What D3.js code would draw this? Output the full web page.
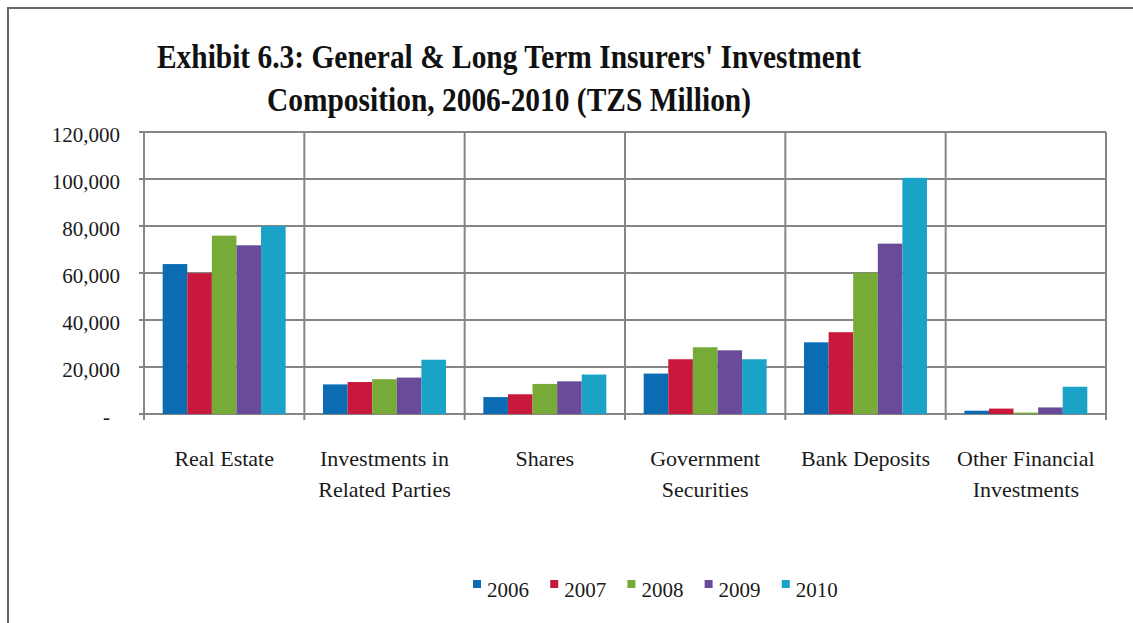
<!DOCTYPE html>
<html>
<head>
<meta charset="utf-8">
<script src="https://cdn.jsdelivr.net/npm/d3@7/dist/d3.min.js"></script>
<style>
  html, body { margin: 0; padding: 0; background: #ffffff; }
  svg { display: block; }
  svg text { font-family: "Liberation Serif", "Times New Roman", serif; fill: #1a1a1a; }
</style>
</head>
<body>
<svg id="chart" width="1133" height="623"></svg>
<script>
// Investment composition by asset class, TZS million
const categories = [
  ["Real Estate"],
  ["Investments in", "Related Parties"],
  ["Shares"],
  ["Government", "Securities"],
  ["Bank Deposits"],
  ["Other Financial", "Investments"]
];
const years = ["2006", "2007", "2008", "2009", "2010"];
const values2006 = [63800, 12600, 7200, 17200, 30500, 1400];
const values2007 = [59900, 13600, 8400, 23300, 34800, 2300];
const values2008 = [75900, 14800, 12800, 28400, 60100, 600];
const values2009 = [71800, 15500, 13900, 27100, 72500, 2800];
const values2010 = [80000, 23100, 16800, 23300, 100500, 11600];
const yTicks = [0, 20000, 40000, 60000, 80000, 100000, 120000];
const colors = ["#0b6cb4", "#c8193c", "#77ab38", "#6a4b99", "#1ba2c7"];

const series = [values2006, values2007, values2008, values2009, values2010];
const catKeys = categories.map(c => c.join(" "));
const serif = "'Liberation Serif', 'Times New Roman', serif";

const svg = d3.select("#chart");

// outer frame (open to the right and bottom)
svg.append("path")
  .attr("d", "M8,623 V8 H1133")
  .attr("fill", "none")
  .attr("stroke", "#666")
  .attr("stroke-width", 2);

// title
const title = svg.append("text")
  .attr("transform", "translate(509,0) scale(0.92,1.05)")
  .attr("text-anchor", "middle")
  .attr("font-family", serif)
  .style("font-size", "32px")
  .style("font-weight", "bold")
  .style("fill", "#111");
title.append("tspan").attr("x", 0).attr("y", 65)
  .text("Exhibit 6.3: General & Long Term Insurers' Investment");
title.append("tspan").attr("x", 0).attr("y", 106)
  .text("Composition, 2006-2010 (TZS Million)");

const plot = { left: 144, right: 1106, top: 132, bottom: 414 };

const x0 = d3.scaleBand()
  .domain(catKeys)
  .range([plot.left, plot.right])
  .paddingInner(0).paddingOuter(0);

const x1 = d3.scaleBand()
  .domain(years)
  .range([0, x0.bandwidth()])
  .paddingInner(0).paddingOuter(0.76);

const y = d3.scaleLinear()
  .domain([0, 120000])
  .range([plot.bottom, plot.top]);

const gridColor = "#858585";

// horizontal gridlines with small ticks to the left of the axis
svg.append("g").selectAll("line")
  .data(yTicks)
  .join("line")
  .attr("x1", plot.left - 5)
  .attr("x2", plot.right)
  .attr("y1", d => y(d))
  .attr("y2", d => y(d))
  .attr("stroke", gridColor)
  .attr("stroke-width", 2);

// vertical lines at category boundaries (incl. axis and right edge)
const boundaries = catKeys.map(k => x0(k)).concat([plot.right]);
svg.append("g").selectAll("line")
  .data(boundaries)
  .join("line")
  .attr("x1", d => d).attr("x2", d => d)
  .attr("y1", plot.top)
  .attr("y2", plot.bottom + 6)
  .attr("stroke", gridColor)
  .attr("stroke-width", 2);

// y tick labels
svg.append("g").selectAll("text")
  .data(yTicks)
  .join("text")
  .attr("x", d => d === 0 ? 110 : 120)
  .attr("y", d => y(d) + 10)
  .attr("text-anchor", "end")
  .attr("font-family", serif)
  .style("font-size", "21px")
  .text(d => d === 0 ? "-" : d3.format(",")(d));

// bars
const groups = svg.append("g").selectAll("g")
  .data(catKeys)
  .join("g")
  .attr("transform", d => `translate(${x0(d)},0)`);

groups.selectAll("rect")
  .data((d, i) => years.map((yr, j) => ({ year: yr, value: series[j][i], color: colors[j] })))
  .join("rect")
  .attr("x", d => x1(d.year))
  .attr("width", x1.bandwidth())
  .attr("y", d => y(d.value))
  .attr("height", d => y(0) - y(d.value))
  .attr("fill", d => d.color);

// category labels
const catLabels = svg.append("g").selectAll("text")
  .data(categories)
  .join("text")
  .attr("text-anchor", "middle")
  .attr("font-family", serif)
  .style("font-size", "22px")
  .attr("transform", (d, i) => `translate(${x0(catKeys[i]) + x0.bandwidth() / 2},0)`);
catLabels.selectAll("tspan")
  .data(d => d)
  .join("tspan")
  .attr("x", 0)
  .attr("y", (d, i) => 466 + i * 31)
  .text(d => d);

// legend
const legend = svg.append("g").selectAll("g")
  .data(years)
  .join("g")
  .attr("transform", (d, i) => `translate(${473 + i * 77.2},0)`);
legend.append("rect")
  .attr("x", 0).attr("y", 580)
  .attr("width", 8).attr("height", 8)
  .attr("fill", (d, i) => colors[i]);
legend.append("text")
  .attr("x", 14).attr("y", 597)
  .attr("font-family", serif)
  .style("font-size", "21px")
  .text(d => d);
</script>
</body>
</html>
